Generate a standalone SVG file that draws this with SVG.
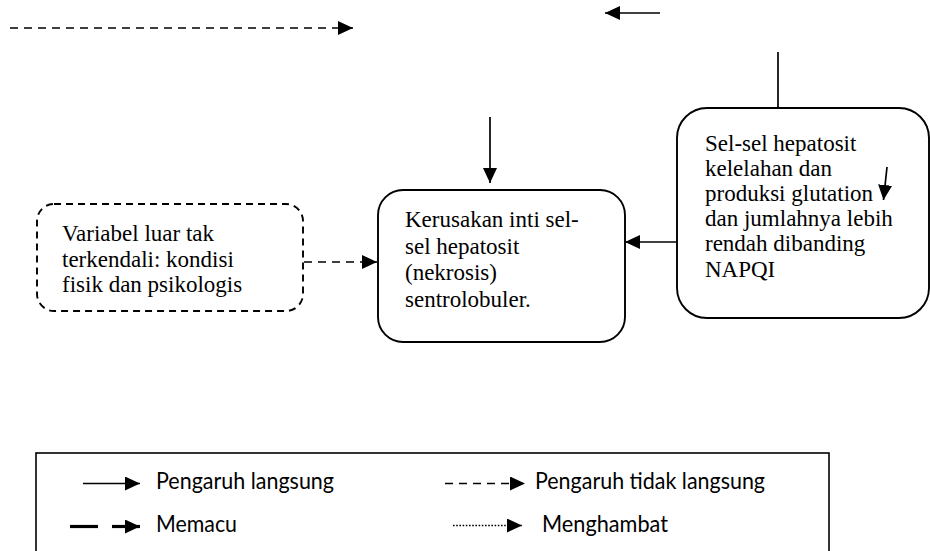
<svg xmlns="http://www.w3.org/2000/svg" width="930" height="551" viewBox="0 0 930 551">
<style>
.box{fill:#fff;stroke:#000;stroke-width:1.9}
.dbox{fill:#fff;stroke:#000;stroke-width:1.9;stroke-dasharray:7,5}
.t{font-family:"Liberation Serif","Times New Roman",serif;font-size:23px;fill:#000}
.lt{font-family:Lato,"Open Sans",sans-serif;font-size:23px;fill:#000}
.ln{fill:none;stroke:#000;stroke-width:1.7}
.dash{stroke-dasharray:8,6}
.dot{stroke-dasharray:1.6,1.6}
.thick{stroke-width:3.2}
.ar{marker-end:url(#ah)}
</style>
<defs>
<marker id="ah" viewBox="0 0 15 14" refX="15" refY="7" markerWidth="15" markerHeight="14" markerUnits="userSpaceOnUse" orient="auto">
<path d="M0,0 L15,7 L0,14 z" fill="#000" stroke="none"/>
</marker>
</defs>
<rect width="930" height="551" fill="#fff"/>

<g id="node-extvar">
<rect class="dbox" x="37" y="204" width="266" height="107" rx="17" ry="17"/>
<text class="t" x="62" y="241">Variabel luar tak</text>
<text class="t" x="62" y="266.5">terkendali: kondisi</text>
<text class="t" x="62" y="292">fisik dan psikologis</text>
</g>

<g id="node-damage">
<rect class="box" x="378" y="190" width="247" height="152" rx="25" ry="25"/>
<text class="t" x="405" y="227">Kerusakan inti sel-</text>
<text class="t" x="405" y="253.5">sel hepatosit</text>
<text class="t" x="405" y="280">(nekrosis)</text>
<text class="t" x="405" y="306.5">sentrolobuler.</text>
</g>

<g id="node-hepatosit">
<rect class="box" x="677" y="108" width="252" height="210" rx="30" ry="30"/>
<text class="t" x="705" y="150.5">Sel-sel hepatosit</text>
<text class="t" x="705" y="175.7">kelelahan dan</text>
<text class="t" x="705" y="200.9">produksi glutation</text>
<text class="t" x="705" y="226.1">dan jumlahnya lebih</text>
<text class="t" x="705" y="251.3">rendah dibanding</text>
<text class="t" x="705" y="276.5">NAPQI</text>
</g>

<g id="connectors">
<path class="ln dash ar" d="M10,28 H353"/>
<path class="ln ar" d="M660,13 H605"/>
<path class="ln" d="M778,52 V108"/>
<path class="ln ar" d="M490,117 V183"/>
<path class="ln ar" d="M676,242 H625"/>
<path class="ln dash ar" d="M304,262 H377"/>
<path class="ln ar" d="M887,167 L883.5,200"/>
</g>

<g id="legend">
<rect x="36" y="453" width="793" height="120" fill="none" stroke="#000" stroke-width="1.6"/>
<path class="ln ar" d="M83,483.5 H140"/>
<text class="lt" x="156" y="488.5" textLength="178" lengthAdjust="spacingAndGlyphs">Pengaruh langsung</text>
<path class="ln dash ar" d="M445,483.5 H525"/>
<text class="lt" x="535" y="488.5" textLength="230" lengthAdjust="spacingAndGlyphs">Pengaruh tidak langsung</text>
<path class="ln thick" d="M70,526.5 H98"/>
<path class="ln thick ar" d="M112,526.5 H140"/>
<text class="lt" x="156" y="531.5" textLength="81" lengthAdjust="spacingAndGlyphs">Memacu</text>
<path class="ln dot ar" d="M453,525.5 H522"/>
<text class="lt" x="542" y="531.5" textLength="126" lengthAdjust="spacingAndGlyphs">Menghambat</text>
</g>
</svg>
